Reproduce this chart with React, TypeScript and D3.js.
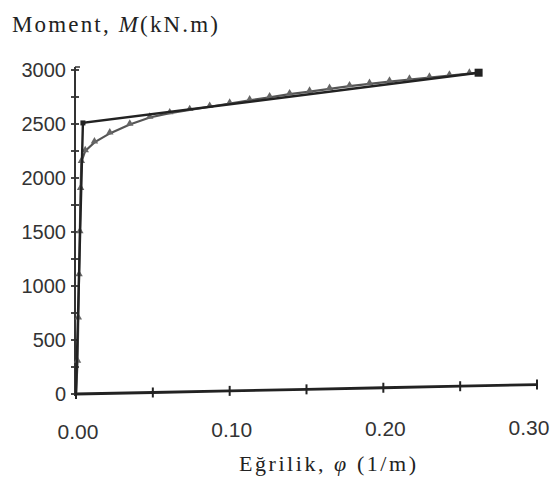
import React from "react";
import * as d3 from "d3";

// Bilinear idealised moment-curvature (kN.m vs 1/m)
const bilinearPhi = [0, 0.0045, 0.262];
const bilinearM = [0, 2510, 2975];

// Analytical moment-curvature curve
const curvePhi = [0, 0.001, 0.0015, 0.002, 0.0025, 0.003, 0.0035, 0.006, 0.012, 0.022, 0.035, 0.048, 0.061, 0.074, 0.087, 0.1, 0.113, 0.126, 0.139, 0.152, 0.165, 0.178, 0.191, 0.204, 0.217, 0.23, 0.243, 0.256, 0.262];
const curveM = [0, 300, 700, 1100, 1500, 1900, 2150, 2250, 2330, 2413, 2495, 2560, 2600, 2630, 2660, 2690, 2720, 2748, 2776, 2800, 2826, 2850, 2872, 2893, 2912, 2930, 2948, 2966, 2975];

// Baseline (horizontal axis trace, slightly tilted in the source)
const basePhi = [0, 0.05, 0.1, 0.15, 0.2, 0.25, 0.3];
const baseM = [0, 14, 29, 43, 58, 72, 87];

const yTicks = [0, 500, 1000, 1500, 2000, 2500, 3000];
const yMinorTicks = [0, 250, 500, 750, 1000, 1250, 1500, 1750, 2000, 2250, 2500, 2750, 3000];
const xTicks = [0, 0.1, 0.2, 0.3];
const xTickLabels = ["0.00", "0.10", "0.20", "0.30"];

const W = 551;
const H = 478;

export default function App() {
  const x = d3.scaleLinear().domain([0, 0.3]).range([76, 537]);
  const y = d3.scaleLinear().domain([0, 3000]).range([394, 70]);

  const line = d3
    .line<[number, number]>()
    .x((d) => x(d[0]))
    .y((d) => y(d[1]));

  const bil = bilinearPhi.map((p, i) => [p, bilinearM[i]] as [number, number]);
  const cur = curvePhi.map((p, i) => [p, curveM[i]] as [number, number]);
  const base = basePhi.map((p, i) => [p, baseM[i]] as [number, number]);

  const tri = d3.symbol().type(d3.symbolTriangle).size(24)();

  return (
    <svg
      width={W}
      height={H}
      style={{ position: "absolute", left: 0, top: 0, background: "#fff" }}
    >
      {/* y-axis */}
      <line x1={x(0) - 1} x2={x(0) - 1} y1={y(0) + 2} y2={y(3000) - 3} stroke="#333" strokeWidth={2} />
      <line x1={x(0) - 1} x2={x(0) + 4} y1={y(3000) - 3} y2={y(3000) - 3} stroke="#333" strokeWidth={1.5} />
      {yMinorTicks.map((t) => (
        <line key={t} x1={x(0) - 5} x2={x(0) + 3} y1={y(t)} y2={y(t)} stroke="#333" strokeWidth={1.8} />
      ))}
      {yTicks.map((t) => (
        <text
          key={t}
          x={66}
          y={y(t)}
          textAnchor="end"
          dominantBaseline="central"
          fontFamily="Liberation Sans, Arial, sans-serif"
          fontSize={20}
          fill="#333"
        >
          {t}
        </text>
      ))}

      {/* baseline trace with tick markers */}
      <path d={line(base) || ""} fill="none" stroke="#222" strokeWidth={2.8} />
      {base.map((d, i) => (
        <line key={i} x1={x(d[0])} x2={x(d[0])} y1={y(d[1]) - 5} y2={y(d[1]) + 5} stroke="#222" strokeWidth={2} />
      ))}
      {xTicks.map((t, i) => (
        <text
          key={t}
          x={i === 3 ? x(t) - 8 : x(t) + 2}
          y={431 - (t / 0.3) * 4}
          textAnchor="middle"
          dominantBaseline="central"
          fontFamily="Liberation Sans, Arial, sans-serif"
          fontSize={21}
          fill="#333"
        >
          {xTickLabels[i]}
        </text>
      ))}

      {/* analytical curve */}
      <path d={line(cur) || ""} fill="none" stroke="#555" strokeWidth={2.2} />
      {cur.slice(1, -1).map((d, i) => (
        <path key={i} d={tri || ""} transform={`translate(${x(d[0])},${y(d[1]) - 1})`} fill="#666" />
      ))}

      {/* bilinear idealisation */}
      <path d={line(bil) || ""} fill="none" stroke="#222" strokeWidth={2.4} />
      <rect x={x(bil[2][0]) - 4} y={y(bil[2][1]) - 4} width={8} height={8} fill="#222" />
      <rect x={x(bil[1][0]) - 2.5} y={y(bil[1][1]) - 2.5} width={5} height={5} fill="#222" />

      {/* titles */}
      <text
        x={12}
        y={32}
        fontFamily="Liberation Serif, Times New Roman, serif"
        fontSize={23}
        fill="#222"
        textLength={206}
        lengthAdjust="spacing"
      >
        Moment, <tspan fontStyle="italic">M</tspan>(kN.m)
      </text>
      <text
        x={239}
        y={471}
        fontFamily="Liberation Serif, Times New Roman, serif"
        fontSize={22}
        fill="#222"
        textLength={177}
        lengthAdjust="spacing"
      >
        Eğrilik, <tspan fontStyle="italic">φ</tspan>  (1/m)
      </text>
    </svg>
  );
}
